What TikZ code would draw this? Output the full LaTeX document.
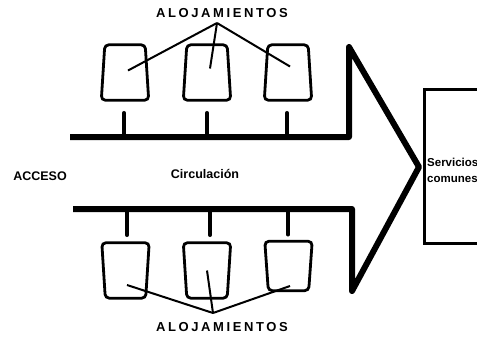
\documentclass[tikz,border=0pt]{standalone}
\usepackage{fontspec}
\setmainfont{Liberation Sans}
\usetikzlibrary{calc}

\begin{document}
\begin{tikzpicture}[x=1pt,y=-1pt,
  room/.style={minimum width=47pt,minimum height=55pt,inner sep=0pt},
  roomline/.style={line width=2.8pt,rounded corners=4pt},
  corridor/.style={line width=6pt,line join=round},
  stub/.style={line width=4.5pt,line cap=round},
  leader/.style={line width=2pt},
  heading/.style={font=\fontsize{13}{15}\selectfont\bfseries\addfontfeatures{LetterSpace=20}},
  label/.style={font=\fontsize{12.5}{14}\selectfont\bfseries},
  svctext/.style={font=\fontsize{11.5}{12}\selectfont\bfseries,anchor=west,inner sep=0pt}
]
\useasboundingbox (0,0) rectangle (477,338);
\clip (0,0) rectangle (477,338);

% rooms along the upper side (wider at the foot)
\node[room] (u1) at (125,72.5) {};
\node[room] (u2) at (207,72.5) {};
\node[room] (u3) at (288,72.5) {};
\foreach \r in {u1,u2,u3}
  \draw[roomline] (\r.south west) -- ($(\r.north west)+(3.5,0)$)
    -- ($(\r.north east)+(-3.5,0)$) -- (\r.south east) -- cycle;

% rooms along the lower side (narrower at the foot)
\node[room] (d1) at (125.5,270.5) {};
\node[room] (d2) at (207,270.5) {};
\node[room,minimum height=49pt] (d3) at (288.5,266) {};
\foreach \r in {d1,d2,d3}
  \draw[roomline] (\r.north west) -- ($(\r.south west)+(3.5,0)$)
    -- ($(\r.south east)+(-3.5,0)$) -- (\r.north east) -- cycle;

% labels
\node[heading] (ht) at (222,13) {ALOJAMIENTOS};
\node[heading] (hb) at (222,327) {ALOJAMIENTOS};
\node[label] (acc) at (40,176) {ACCESO};
\node[label] (circ) at (205,174) {Circulación};

% leader lines to the rooms
\coordinate (apt) at (217,23);
\coordinate (apb) at (213,313);
\draw[leader] (apt) -- ($(u1.center)+(3,-2)$);
\draw[leader] (apt) -- ($(u2.center)+(3,-4)$);
\draw[leader] (apt) -- ($(u3.center)+(2,-6)$);
\draw[leader] (apb) -- ($(d1.center)+(1.5,14.5)$);
\draw[leader] (apb) -- (d2.center);
\draw[leader] (apb) -- ($(d3.center)+(1.5,20)$);

% circulation spine with the arrow head
\coordinate (tl) at (70,137);
\coordinate (tc) at (349,137);
\coordinate (tt) at (349,47);
\coordinate (tip) at (419,167);
\coordinate (bt) at (352,291);
\coordinate (bc) at (352,209);
\coordinate (bl) at (73,209);
\draw[corridor] (tl) -- (tc) -- (tt) -- (tip) -- (bt) -- (bc) -- (bl);

% branches from the spine to the rooms
\coordinate (su1) at ($(u1.south)+(-1,13)$);
\coordinate (su2) at ($(u2.south)+(0,13)$);
\coordinate (su3) at ($(u3.south)+(-1,13)$);
\coordinate (sd1) at ($(d1.north)+(1.5,-8)$);
\coordinate (sd2) at ($(d2.north)+(3,-8)$);
\coordinate (sd3) at ($(d3.north)+(-0.5,-7)$);
\foreach \s in {su1,su2,su3}
  \draw[stub] (\s) -- (\s |- tl);
\foreach \s in {sd1,sd2,sd3}
  \draw[stub] (\s) -- (\s |- bl);

% shared services block
\node[draw,line width=2.6pt,anchor=north west,minimum width=80pt,minimum height=154pt,inner sep=0pt] (svc) at (423,88) {};
\node[svctext] (s1) at (427,162) {Servicios};
\node[svctext] (s2) at (427,179) {comunes};
\end{tikzpicture}
\end{document}
